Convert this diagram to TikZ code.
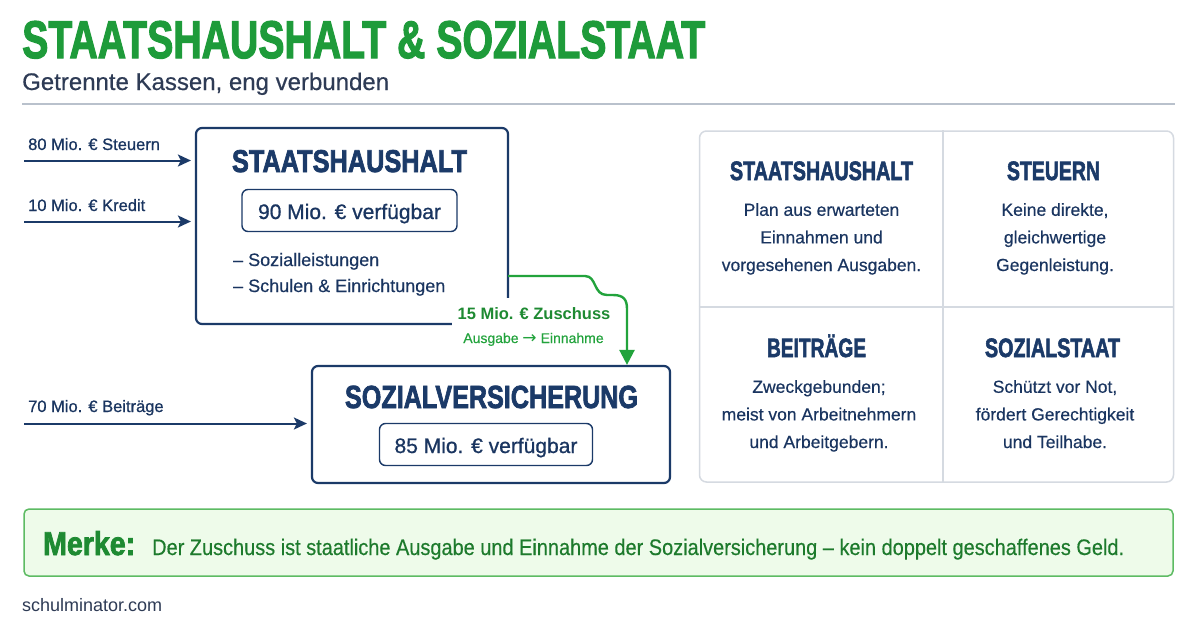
\documentclass[tikz,border=0pt]{standalone}
\usepackage{fontspec}
\usepackage{graphicx}
\setmainfont{Liberation Sans}
\newfontfamily\hdfont[UprightFont={* Bold}, UprightFeatures={FakeBold=2.5}]{Liberation Sans}
\newfontfamily\medfont[FakeBold=0.8]{Liberation Sans}
\newfontfamily\lightmed[FakeBold=0.4]{Liberation Sans}
\newfontfamily\djv{DejaVu Sans}
\usetikzlibrary{arrows.meta}
\definecolor{navy}{HTML}{1B3A68}
\definecolor{navytext}{HTML}{1A3560}
\definecolor{subc}{HTML}{2E3B55}
\definecolor{titlegreen}{HTML}{1E9B3A}
\definecolor{arrowgreen}{HTML}{22A33C}
\definecolor{labgreen}{HTML}{1E8A32}
\definecolor{merkefill}{HTML}{EEFBEA}
\definecolor{merkeborder}{HTML}{5DBB63}
\definecolor{merketext}{HTML}{1D7A2C}
\definecolor{gridc}{HTML}{D5DAE1}
\definecolor{rulec}{HTML}{B9C1CC}
\newcommand\hd[3]{\resizebox{#1}{\height}{\fontsize{#2}{#2}\selectfont\hdfont #3}}
\newcommand\fs[1]{\fontsize{#1}{#1}\selectfont}
\tikzset{
  navybox/.style={draw=navy, line width=2.2pt, rounded corners=6pt, inner sep=0pt, fill=white},
  innerbox/.style={draw=navy, line width=1.4pt, rounded corners=6pt, inner sep=0pt},
  txt/.style={anchor=base, inner sep=0pt},
  celltxt/.style={anchor=base, inner sep=0pt, align=center, text=navytext, font=\lightmed\fontsize{17.5}{27.6}\selectfont},
  flowarrow/.style={draw=navy, line width=2pt, -{Stealth[length=13pt,width=12pt,inset=3pt]}, shorten >=4pt},
  garrow/.style={draw=arrowgreen, line width=2.4pt, -{Triangle[length=15pt,width=15pt]}},
  gridline/.style={draw=gridc, line width=1.3pt}
}
\begin{document}
\begin{tikzpicture}[x=1pt,y=-1pt]
\useasboundingbox[fill=white] (0,0) rectangle (1200,630);

% Title
\node[txt, anchor=base west, text=titlegreen] (title) at (22,58) {\hd{683pt}{53}{STAATSHAUSHALT \& SOZIALSTAAT}};
\node[txt, anchor=base west, text=subc, font=\lightmed\fs{24}] (sub) at (22,90) {Getrennte Kassen, eng verbunden};
\coordinate (r1) at (22,104);
\coordinate (r2) at (1175,104);
\draw[rulec, line width=2pt] (r1) -- (r2);

% Staatshaushalt box
\node[navybox, minimum width=312pt, minimum height=196pt] (sh) at (352,226) {};
\node[txt, text=navy] (shh) at (349.5,172) {\hd{235pt}{31.5}{STAATSHAUSHALT}};
\node[innerbox, minimum width=215pt, minimum height=42pt] (shin) at (349.5,210.5) {};
\node[txt, text=navytext, font=\medfont\fs{21}] (shintxt) at (349.5,219) {90 Mio. € verfügbar};
\node[txt, anchor=base west, text=navytext, font=\lightmed\fs{18}] (b1) at (233,266) {– Sozialleistungen};
\node[txt, anchor=base west, text=navytext, font=\lightmed\fs{18}] (b2) at (233,292) {– Schulen \& Einrichtungen};

% incoming arrows
\node[txt, anchor=base west, text=navytext, font=\medfont\fs{16.5}] (l1) at (28,150) {80 Mio. € Steuern};
\node[txt, anchor=base west, text=navytext, font=\medfont\fs{16.5}] (l2) at (28,211) {10 Mio. € Kredit};
\coordinate (s1) at (24,160.5);
\coordinate (s2) at (24,221.5);
\draw[flowarrow] (s1) -- (sh.west |- s1);
\draw[flowarrow] (s2) -- (sh.west |- s2);

% Sozialversicherung box
\node[navybox, minimum width=358pt, minimum height=117pt] (sv) at (491,424.5) {};
\node[txt, text=navy] (svh) at (491.5,408) {\hd{293pt}{32}{SOZIALVERSICHERUNG}};
\node[innerbox, minimum width=213pt, minimum height=42pt] (svin) at (486,444.5) {};
\node[txt, text=navytext, font=\medfont\fs{21}] (svintxt) at (486,453) {85 Mio. € verfügbar};
\node[txt, anchor=base west, text=navytext, font=\medfont\fs{16.5}] (l3) at (28,412) {70 Mio. € Beiträge};
\coordinate (s3) at (24,423.5);
\draw[flowarrow] (s3) -- (sv.west |- s3);

% Zuschuss
\node[anchor=base, fill=white, inner xsep=6pt, inner ysep=9pt, text=labgreen, font=\bfseries\fs{16.5}] (z1) at (534,319) {15 Mio. € Zuschuss};
\node[anchor=base, fill=white, inner xsep=4pt, inner ysep=5pt, text=arrowgreen, font=\lightmed\fs{14}] (z2) at (533.5,343) {Ausgabe \djv\fs{17}→\lightmed\fs{14} Einnahme};
\coordinate (zs) at (508,276);
\draw[garrow] (zs) -- (585,276) .. controls (597,276) and (593,295) .. (607,295) -- (613,295) .. controls (624,295) and (627,300) .. (627,309) -- (sv.north -| 627,0);

% Grid of definitions
\node[draw=gridc, line width=1.5pt, rounded corners=7pt, minimum width=474pt, minimum height=351pt, inner sep=0pt] (grid) at (936.5,306.5) {};
\draw[gridline] (grid.north -| 943,0) -- (grid.south -| 943,0);
\draw[gridline] (grid.west |- 0,307) -- (grid.east |- 0,307);

\node[txt, text=navy] (g1h) at (821.5,180) {\hd{183pt}{26.5}{STAATSHAUSHALT}};
\node[celltxt] (g1t) at (821.5,271) {Plan aus erwarteten\\Einnahmen und\\vorgesehenen Ausgaben.};

\node[txt, text=navy] (g2h) at (1053.5,180) {\hd{93pt}{26.5}{STEUERN}};
\node[celltxt] (g2t) at (1055,271) {Keine direkte,\\gleichwertige\\Gegenleistung.};

\node[txt, text=navy] (g3h) at (816.5,357) {\hd{99pt}{26.5}{BEITRÄGE}};
\node[celltxt] (g3t) at (819,448) {Zweckgebunden;\\meist von Arbeitnehmern\\und Arbeitgebern.};

\node[txt, text=navy] (g4h) at (1052.5,357) {\hd{135pt}{26.5}{SOZIALSTAAT}};
\node[celltxt] (g4t) at (1055,448) {Schützt vor Not,\\fördert Gerechtigkeit\\und Teilhabe.};

% Merke box
\node[draw=merkeborder, fill=merkefill, line width=1.5pt, rounded corners=5pt, minimum width=1149pt, minimum height=67pt, inner sep=0pt] (merke) at (598.5,542.5) {};
\node[txt, anchor=base west, text=labgreen] (mk) at (43,555) {\hd{92pt}{33}{Merke:}};
\node[txt, anchor=base west, text=merketext] (mt) at (152,555) {\resizebox{972pt}{\height}{\lightmed\fs{22.5}Der Zuschuss ist staatliche Ausgabe und Einnahme der Sozialversicherung – kein doppelt geschaffenes Geld.}};

% footer
\node[txt, anchor=base west, text=subc, font=\fs{18}] (foot) at (22,611.5) {schulminator.com};
\end{tikzpicture}
\end{document}
